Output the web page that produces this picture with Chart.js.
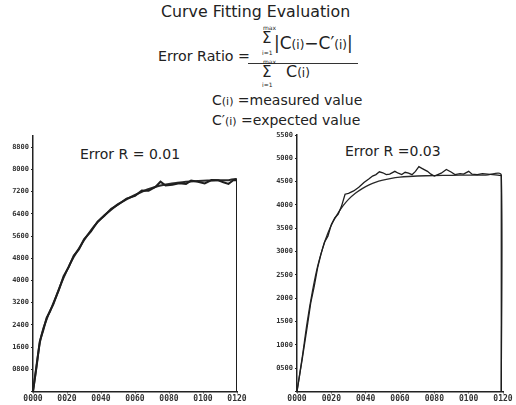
<!DOCTYPE html>
<html>
<head>
<meta charset="utf-8">
<script src="https://cdn.jsdelivr.net/npm/chart.js@4"></script>
<style>
  body { margin: 0; background: #fff; }
  #wrap { position: relative; width: 516px; height: 405px; overflow: hidden; background: #fff; font-family: "DejaVu Sans", sans-serif; color: #222; }
  .t { position: absolute; white-space: nowrap; }
  .small { font-size: 6px; }
  canvas { position: absolute; }
</style>
</head>
<body>
<div id="wrap">
  <div class="t" style="left:161px; top:2px; font-size:15.8px;">Curve Fitting Evaluation</div>
  <div class="t" style="left:158px; top:48px; font-size:14.2px;">Error Ratio =</div>
  <div class="t" style="left:248px; top:63px; width:110px; height:1px; background:#333;"></div>
  <div class="t small" style="left:263px; top:24px;">max</div>
  <div class="t" style="left:262px; top:29px; font-size:15px;">&Sigma;</div>
  <div class="t small" style="left:262px; top:49px;">i=1</div>
  <div class="t" style="left:274px; top:33px; font-size:17px;">|C<span style="font-size:12px">(i)</span>&minus;C&prime;<span style="font-size:12px">(i)</span>|</div>
  <div class="t small" style="left:263px; top:58px;">max</div>
  <div class="t" style="left:262px; top:63px; font-size:15px;">&Sigma;</div>
  <div class="t small" style="left:262px; top:81px;">i=1</div>
  <div class="t" style="left:286px; top:62px; font-size:16px;">C<span style="font-size:12px">(i)</span></div>
  <div class="t" style="left:212px; top:92px; font-size:14px;">C<span style="font-size:11px">(i)</span> =measured value</div>
  <div class="t" style="left:212px; top:112px; font-size:14px;">C&prime;<span style="font-size:11px">(i)</span> =expected value</div>
  <div class="t" style="left:80px; top:146px; font-size:14px;">Error R = 0.01</div>
  <div class="t" style="left:345px; top:143px; font-size:14px;">Error R =0.03</div>
  <canvas id="izq" width="250" height="275" style="left:0px; top:130px;"></canvas>
  <canvas id="der" width="258" height="280" style="left:258px; top:125px;"></canvas>
</div>
<script>
// curva izquierda (Error R = 0.01)
let izqT_esperado = [0, 2, 4, 6, 8, 10, 12, 15, 18, 21, 24, 27, 30, 34, 38, 42, 46, 50, 55, 60, 65, 70, 75, 80, 85, 90, 95, 100, 105, 110, 115, 120, 120];
let izq_esperado = [0, 850, 1750, 2250, 2600, 2900, 3150, 3650, 4100, 4500, 4850, 5150, 5450, 5800, 6100, 6350, 6550, 6750, 6920, 7080, 7220, 7330, 7420, 7480, 7520, 7555, 7580, 7595, 7605, 7612, 7616, 7620, 0];
let izqT_medido = [0, 2, 4, 6, 8, 10, 12, 15, 18, 21, 24, 27, 30, 34, 38, 42, 46, 50, 55, 60, 64, 68, 72, 75, 78, 82, 86, 90, 93, 97, 101, 105, 109, 112, 115, 118, 120, 120];
let izq_medido = [0, 900, 1800, 2200, 2650, 2880, 3180, 3620, 4150, 4480, 4900, 5120, 5480, 5760, 6120, 6330, 6580, 6730, 6950, 7050, 7240, 7230, 7370, 7560, 7420, 7450, 7500, 7480, 7600, 7560, 7500, 7620, 7610, 7540, 7480, 7620, 7610, 0];

// curva derecha (Error R = 0.03)
let derT_esperado = [0, 3, 6, 9, 12, 15, 18, 21, 24, 27, 30, 34, 38, 42, 46, 50, 55, 60, 65, 70, 80, 90, 100, 110, 119, 119];
let der_esperado = [0, 720, 1500, 2150, 2680, 3080, 3400, 3640, 3830, 3990, 4120, 4250, 4350, 4430, 4490, 4530, 4570, 4595, 4610, 4620, 4630, 4635, 4640, 4640, 4640, 0];
let derT_medido = [0, 3, 6, 8, 10, 12, 14, 16, 18, 20, 22, 24, 26, 28, 30, 33, 36, 39, 42, 44, 46, 48, 50, 52, 54, 57, 59, 61, 63, 65, 67, 69, 71, 73, 76, 78, 80, 82, 84, 87, 90, 92, 95, 97, 100, 102, 105, 108, 111, 114, 117, 119, 119];
let der_medido = [0, 680, 1400, 1900, 2250, 2650, 2950, 3200, 3330, 3580, 3720, 3800, 3980, 4230, 4250, 4300, 4380, 4480, 4560, 4620, 4650, 4710, 4690, 4650, 4660, 4720, 4680, 4650, 4700, 4680, 4650, 4720, 4820, 4780, 4720, 4660, 4620, 4650, 4680, 4760, 4700, 4650, 4670, 4660, 4720, 4660, 4650, 4670, 4660, 4650, 4640, 4630, 0];

// ticks
let ticksX = [0, 20, 40, 60, 80, 100, 120];
let ticksY_izq = [0, 800, 1600, 2400, 3200, 4000, 4800, 5600, 6400, 7200, 8000, 8800];
let ticksY_der = [0, 500, 1000, 1500, 2000, 2500, 3000, 3500, 4000, 4500, 5000, 5500];

function puntos(xs, ys) {
    return xs.map(function(x, i) { return { x: x, y: ys[i] }; });
}

function cuatroDigitos(v) {
    if (v === 0) return '';
    return String(Math.round(v)).padStart(4, '0');
}

function crearGrafica(canvas, medido, esperado, maxY, ticksY, ancho, padding, grosor) {
    return new Chart(canvas, {
        type: 'line',
        data: {
            datasets: [{
                label: 'measured',
                data: medido,
                borderColor: '#1e1e1e',
                borderWidth: grosor,
                pointRadius: 0,
                tension: 0
            }, {
                label: 'expected',
                data: esperado,
                borderColor: '#2a2a2a',
                borderWidth: grosor,
                pointRadius: 0,
                tension: 0.3
            }]
        },
        options: {
            responsive: false,
            devicePixelRatio: 1,
            animation: false,
            layout: { padding: padding },
            plugins: {
                legend: { display: false },
                tooltip: { enabled: false }
            },
            scales: {
                x: {
                    type: 'linear',
                    min: 0,
                    max: 120,
                    afterBuildTicks: function(scale) {
                        scale.ticks = ticksX.map(function(v) { return { value: v }; });
                    },
                    ticks: {
                        autoSkip: false,
                        maxRotation: 0,
                        padding: 1,
                        color: '#333',
                        font: { family: 'DejaVu Sans Mono', size: 8, weight: 'bold' },
                        callback: function(v) { return String(v).padStart(4, '0'); }
                    },
                    grid: { drawOnChartArea: false, drawTicks: true, tickLength: 2, color: '#222' },
                    border: { display: true, color: '#222', width: 1.5 }
                },
                y: {
                    type: 'linear',
                    min: 0,
                    max: maxY,
                    afterBuildTicks: function(scale) {
                        scale.ticks = ticksY.map(function(v) { return { value: v }; });
                    },
                    afterFit: function(scale) { scale.width = ancho; },
                    ticks: {
                        autoSkip: false,
                        padding: 2,
                        color: '#333',
                        font: { family: 'DejaVu Sans Mono', size: 7, weight: 'bold' },
                        callback: cuatroDigitos
                    },
                    grid: { drawOnChartArea: false, drawTicks: true, tickLength: 2, color: '#222' },
                    border: { display: true, color: '#222', width: 1.5 }
                }
            }
        }
    });
}

let izq = document.getElementById('izq');
let der = document.getElementById('der');

crearGrafica(izq, puntos(izqT_medido, izq_medido), puntos(izqT_esperado, izq_esperado), 9200, ticksY_izq, 33, { top: 5, right: 13, left: 0, bottom: 0 }, 2);
crearGrafica(der, puntos(derT_medido, der_medido), puntos(derT_esperado, der_esperado), 5500, ticksY_der, 39, { top: 10, right: 13, left: 0, bottom: 0 }, 1.3);
</script>
</body>
</html>
